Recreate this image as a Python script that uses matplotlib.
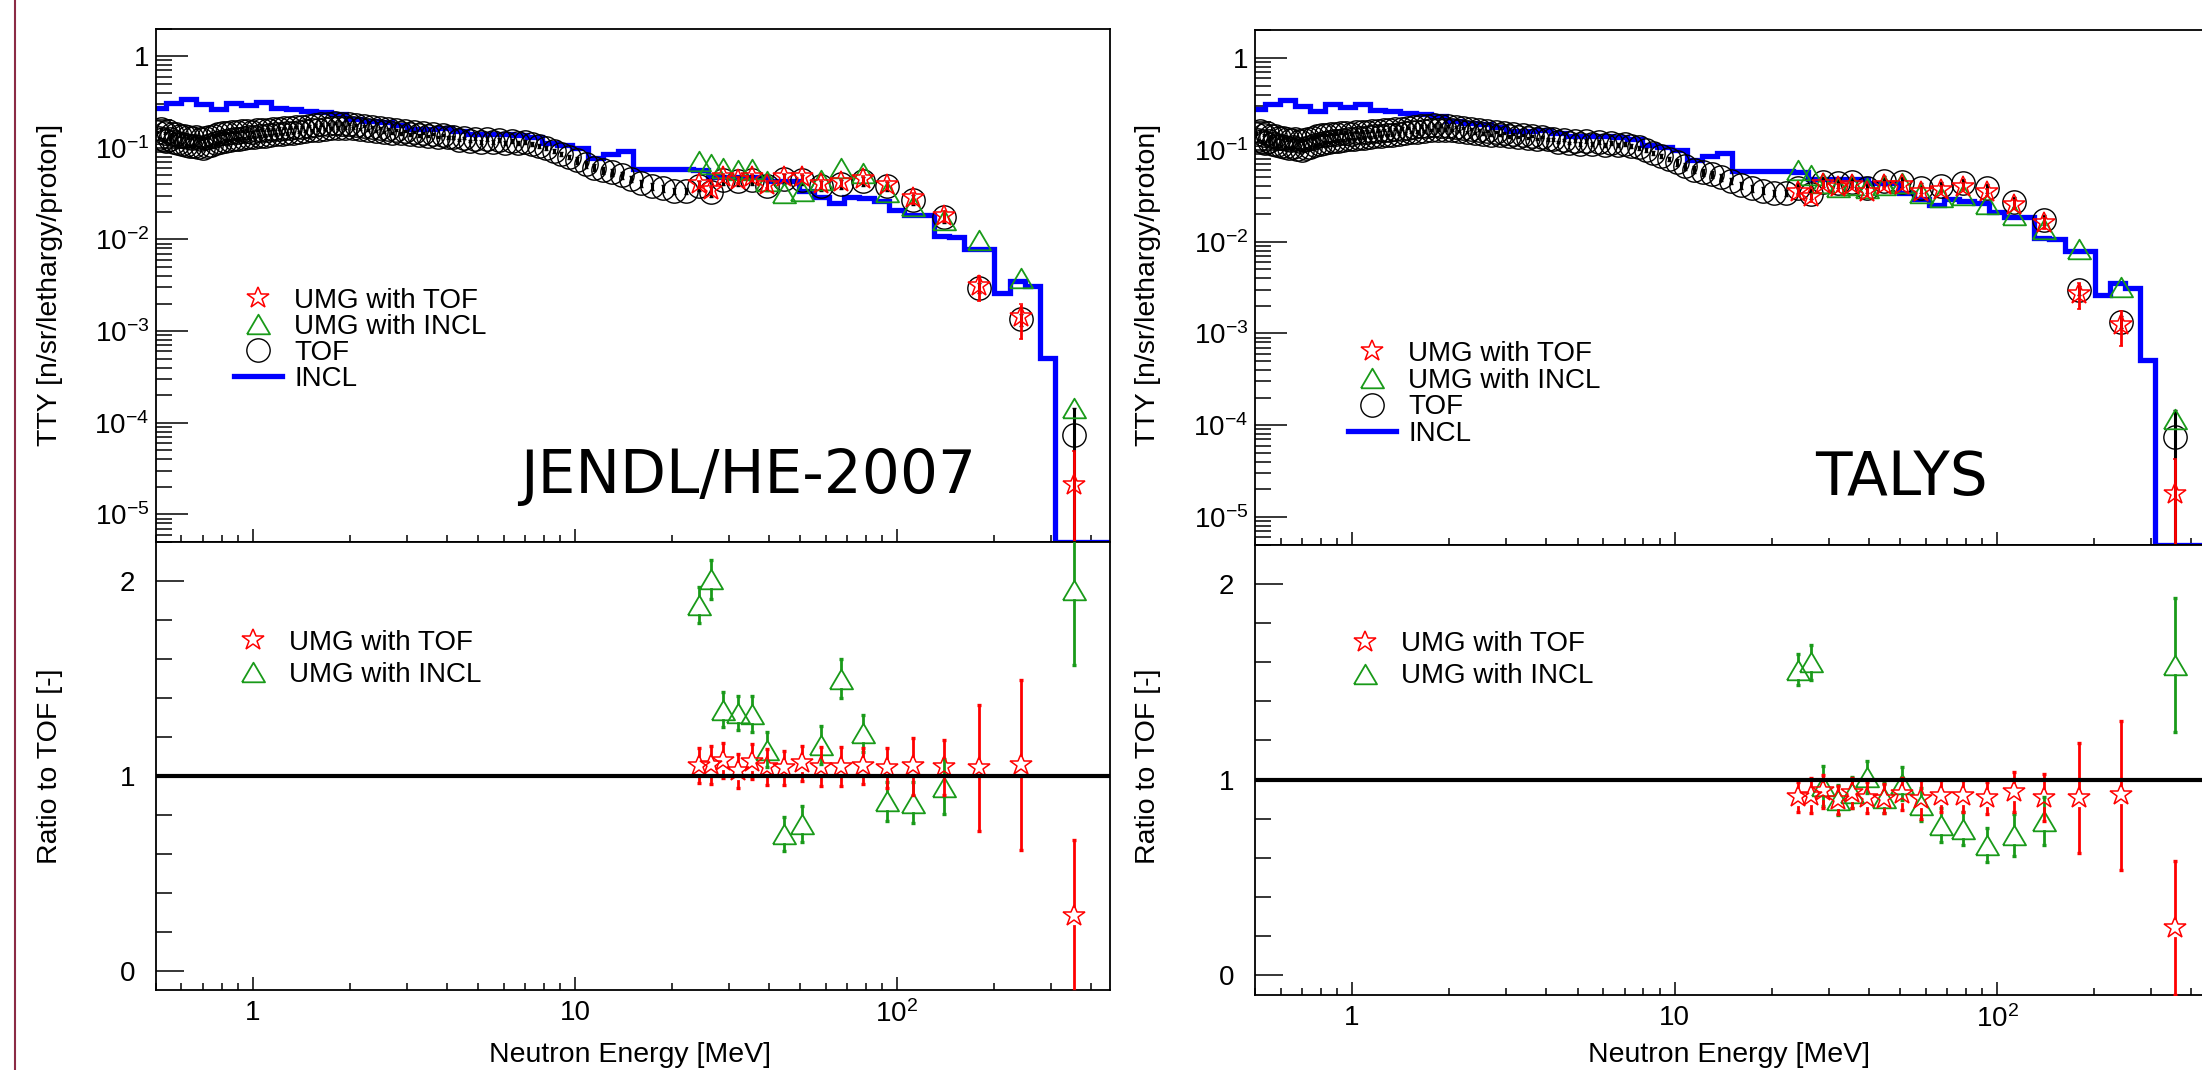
import numpy as np
import matplotlib
matplotlib.use('Agg')
from matplotlib import pyplot as plt
from matplotlib.lines import Line2D
from matplotlib.ticker import FixedLocator, FixedFormatter, LogLocator, MultipleLocator, NullFormatter

plt.rcParams['font.family'] = ['Liberation Sans', 'DejaVu Sans']
plt.rcParams['mathtext.fontset'] = 'custom'
plt.rcParams['mathtext.rm'] = 'Liberation Sans'
plt.rcParams['mathtext.it'] = 'Liberation Sans:italic'
plt.rcParams['mathtext.bf'] = 'Liberation Sans:bold'

# ---------------- data ----------------
# TOF measurement below the UMG range [MeV], [n/sr/lethargy/proton]
tof_lo_E = [0.5041, 0.5107, 0.5175, 0.5244, 0.5315, 0.5387, 0.5460, 0.5535, 0.5612, 0.5690,
            0.5770, 0.5851, 0.5935, 0.6020, 0.6106, 0.6195, 0.6286, 0.6379, 0.6473, 0.6570,
            0.6669, 0.6771, 0.6874, 0.6981, 0.7089, 0.7200, 0.7314, 0.7430, 0.7550, 0.7672,
            0.7797, 0.7925, 0.8057, 0.8191, 0.8330, 0.8471, 0.8616, 0.8765, 0.8918, 0.9075,
            0.9237, 0.9402, 0.9572, 0.9747, 0.9926, 1.011, 1.030, 1.050, 1.070, 1.090,
            1.112, 1.133, 1.156, 1.179, 1.203, 1.228, 1.253, 1.279, 1.306, 1.334,
            1.363, 1.393, 1.424, 1.455, 1.488, 1.522, 1.557, 1.594, 1.631, 1.671,
            1.711, 1.753, 1.796, 1.842, 1.888, 1.937, 1.988, 2.040, 2.095, 2.152,
            2.211, 2.273, 2.337, 2.404, 2.475, 2.548, 2.624, 2.704, 2.788, 2.876,
            2.968, 3.064, 3.165, 3.271, 3.383, 3.500, 3.624, 3.754, 3.892, 4.037,
            4.191, 4.353, 4.525, 4.707, 4.901, 5.107, 5.326, 5.560, 5.809, 6.076,
            6.361, 6.667, 6.995, 7.348, 7.729, 8.140, 8.585, 9.067, 9.591, 10.16,
            10.79, 11.47, 12.22, 13.04, 13.95, 14.97, 16.09, 17.35, 18.76, 20.35,
            22.15]
tof_lo_y = [0.150, 0.128, 0.160, 0.124, 0.145, 0.118, 0.152, 0.126, 0.140, 0.115,
            0.142, 0.112, 0.136, 0.110, 0.134, 0.108, 0.130, 0.104, 0.128, 0.106,
            0.132, 0.102, 0.126, 0.100, 0.128, 0.104, 0.132, 0.108, 0.136, 0.112,
            0.140, 0.116, 0.144, 0.120, 0.146, 0.122, 0.148, 0.124, 0.150, 0.126,
            0.152, 0.128, 0.154, 0.130, 0.150, 0.132, 0.156, 0.134, 0.158, 0.136,
            0.158, 0.138, 0.160, 0.140, 0.162, 0.142, 0.164, 0.144, 0.166, 0.146,
            0.168, 0.150, 0.170, 0.152, 0.174, 0.156, 0.176, 0.158, 0.180, 0.160,
            0.182, 0.164, 0.186, 0.166, 0.184, 0.166, 0.182, 0.164, 0.178, 0.160,
            0.172, 0.156, 0.168, 0.152, 0.164, 0.150, 0.160, 0.146, 0.156, 0.144,
            0.152, 0.140, 0.148, 0.137, 0.145, 0.134, 0.142, 0.132, 0.139, 0.130,
            0.130, 0.121, 0.128, 0.119, 0.126, 0.117, 0.124, 0.115, 0.122, 0.114,
            0.120, 0.114, 0.117, 0.110, 0.106, 0.099, 0.093, 0.086, 0.080, 0.073,
            0.066, 0.061, 0.057, 0.054, 0.050, 0.046, 0.041, 0.038, 0.036, 0.034,
            0.034]
tof_lo_rel = [0.03, 0.03, 0.03, 0.03, 0.03, 0.03, 0.03, 0.03, 0.03, 0.03,
              0.03, 0.03, 0.03, 0.03, 0.03, 0.03, 0.03, 0.03, 0.03, 0.03,
              0.03, 0.03, 0.03, 0.03, 0.03, 0.03, 0.03, 0.03, 0.03, 0.03,
              0.03, 0.03, 0.03, 0.03, 0.03, 0.03, 0.03, 0.03, 0.03, 0.03,
              0.03, 0.03, 0.03, 0.03, 0.03, 0.03, 0.03, 0.03, 0.03, 0.03,
              0.03, 0.03, 0.03, 0.03, 0.03, 0.03, 0.03, 0.03, 0.03, 0.03,
              0.03, 0.03, 0.03, 0.03, 0.03, 0.03, 0.03, 0.03, 0.03, 0.03,
              0.03, 0.03, 0.03, 0.03, 0.03, 0.03, 0.03, 0.03, 0.03, 0.03,
              0.03, 0.03, 0.03, 0.03, 0.03, 0.03, 0.03, 0.03, 0.03, 0.03,
              0.03, 0.03, 0.03, 0.03, 0.03, 0.03, 0.03, 0.03, 0.03, 0.03,
              0.03, 0.03, 0.03, 0.03, 0.03, 0.05, 0.05, 0.05, 0.05, 0.05,
              0.05, 0.05, 0.05, 0.05, 0.05, 0.05, 0.05, 0.05, 0.05, 0.08,
              0.08, 0.08, 0.08, 0.08, 0.08, 0.08, 0.08, 0.08, 0.08, 0.08,
              0.08]

# energies of the UMG bins (TOF shares them here)
umg_E = [24.2, 26.5, 28.9, 32.0, 35.5, 39.6, 44.7, 50.6, 57.9, 66.9,
         78.2, 93.0, 112.5, 140.0, 180.0, 242.0, 355.0]
tof_hi_y = [0.0385, 0.0330, 0.0448, 0.0436, 0.0447, 0.0380, 0.0460, 0.0448, 0.0388, 0.0400,
            0.0434, 0.0382, 0.0270, 0.0174, 0.00296, 0.00134, 0.000074]
tof_hi_rel = [0.12, 0.12, 0.12, 0.12, 0.12, 0.12, 0.12, 0.12, 0.12, 0.12,
              0.12, 0.12, 0.12, 0.12, 0.12, 0.15, 0.97]

# INCL calculation, histogram
incl_edges = [0.4805, 0.5354, 0.5963, 0.6642, 0.7396, 0.8237, 0.9175, 1.0219, 1.1382, 1.2677,
              1.4120, 1.5726, 1.7516, 1.9509, 2.1727, 2.4200, 2.6954, 3.0020, 3.3437, 3.7239,
              4.1476, 4.6195, 5.1451, 5.7307, 6.3826, 7.1090, 7.9177, 8.8186, 9.8220, 10.940,
              12.184, 13.571, 15.115, 16.834, 18.750, 20.883, 23.259, 25.906, 28.853, 32.137,
              35.793, 39.866, 44.402, 49.454, 55.081, 61.348, 68.329, 76.103, 84.763, 94.406,
              105.15, 117.11, 130.44, 145.28, 161.81, 180.22, 200.72, 223.56, 249.00, 277.33,
              308.88, 344.02, 383.17, 426.77, 475.30]
incl_y = [0.275, 0.312, 0.345, 0.299, 0.268, 0.312, 0.293, 0.317, 0.272, 0.264,
          0.255, 0.247, 0.232, 0.205, 0.196, 0.189, 0.177, 0.160, 0.160, 0.164,
          0.154, 0.141, 0.141, 0.141, 0.138, 0.130, 0.112, 0.108, 0.099, 0.078,
          0.085, 0.092, 0.059, 0.059, 0.059, 0.059, 0.058, 0.048, 0.048, 0.048,
          0.048, 0.043, 0.043, 0.0335, 0.029, 0.025, 0.029, 0.028, 0.0265, 0.021,
          0.0185, 0.0185, 0.011, 0.0106, 0.0079, 0.0079, 0.0026, 0.0035, 0.0031, 0.00051,
          0, 0, 0, 0]

# ratios to TOF, JENDL/HE-2007 response
jendl_tof_r = [1.051, 1.054, 1.076, 1.025, 1.071, 1.045, 1.041, 1.064, 1.047, 1.047,
               1.050, 1.041, 1.048, 1.043, 1.040, 1.055, 0.280]
jendl_tof_re = [0.090, 0.098, 0.090, 0.086, 0.090, 0.092, 0.088, 0.090, 0.098, 0.098,
                0.094, 0.103, 0.147, 0.141, 0.323, 0.436, 0.390]
jendl_incl_r = [1.876, 2.008, 1.340, 1.322, 1.318, 1.133, 0.702, 0.754, 1.157, 1.497,
                1.218, 0.870, 0.862, 0.943, 3.30, 2.87, 1.953]
jendl_incl_re = [0.094, 0.100, 0.092, 0.088, 0.092, 0.090, 0.088, 0.092, 0.098, 0.100,
                 0.094, 0.100, 0.106, 0.141, 0.30, 0.25, 0.385]
# ratios to TOF, TALYS response
talys_tof_r = [0.912, 0.917, 0.940, 0.894, 0.930, 0.907, 0.902, 0.926, 0.900, 0.918,
               0.918, 0.906, 0.939, 0.907, 0.905, 0.920, 0.243]
talys_tof_re = [0.078, 0.090, 0.084, 0.071, 0.077, 0.079, 0.074, 0.081, 0.100, 0.081,
                0.081, 0.084, 0.102, 0.121, 0.282, 0.381, 0.341]
talys_incl_r = [1.562, 1.599, 0.968, 0.895, 0.934, 1.012, 0.905, 0.980, 0.871, 0.767,
                0.750, 0.668, 0.718, 0.788, 2.82, 2.38, 1.586]
talys_incl_re = [0.080, 0.088, 0.102, 0.075, 0.080, 0.081, 0.077, 0.083, 0.085, 0.087,
                 0.084, 0.087, 0.106, 0.122, 0.20, 0.15, 0.343]

ylog_ticks = [1e-5, 1e-4, 1e-3, 1e-2, 1e-1, 1]
ylog_labels = [r'$\mathregular{10^{-5}}$', r'$\mathregular{10^{-4}}$', r'$\mathregular{10^{-3}}$',
               r'$\mathregular{10^{-2}}$', r'$\mathregular{10^{-1}}$', '1']
x_ticks = [1, 10, 100]
x_labels = ['1', '10', r'$\mathregular{10^{2}}$']

# ---------------- styles ----------------
GREEN = '#199a19'
TRI = [(-1, -0.85), (1, -0.85), (0, 0.85), (-1, -0.85)]  # ROOT open triangle
XLIM = (0.5, 457)
YLIM = (5e-6, 2)
RLIM = (-0.1, 2.2)
W, H = 2202, 1070


def box(l, t, r, b):
    # pixel box of the reference -> figure fractions
    return [l / W, 1 - b / H, (r - l) / W, (b - t) / H]


def gap_bars(ax, x, y, err, gap, color, z):
    # ROOT leaves the inside of an open marker free of the error bar
    to_px = ax.transData
    to_data = to_px.inverted()
    for xi, yi, ei in zip(x, y, err):
        px, py = to_px.transform((xi, yi))
        y_up = to_data.transform((px, py + gap))[1]
        y_dn = to_data.transform((px, py - gap))[1]
        if yi + ei > y_up:
            ax.plot([xi, xi], [y_up, yi + ei], color=color, lw=2, zorder=z)
            ax.plot([xi], [yi + ei], marker='_', ms=3.5, mew=2.4, color=color, zorder=z)
        if yi - ei < y_dn:
            ax.plot([xi, xi], [yi - ei, y_dn], color=color, lw=2, zorder=z)
            ax.plot([xi], [yi - ei], marker='_', ms=3.5, mew=2.4, color=color, zorder=z)


def style(ax, ymaj, ymin):
    ax.set_xscale('log')
    ax.set_xlim(*XLIM)
    ax.xaxis.set_major_locator(FixedLocator(x_ticks))
    ax.xaxis.set_minor_locator(LogLocator(base=10, subs=np.arange(2, 10), numticks=20))
    ax.xaxis.set_minor_formatter(NullFormatter())
    ax.tick_params(which='both', direction='in', top=False, right=False, width=1.1, labelsize=20)
    ax.tick_params(axis='x', which='major', length=9.5, pad=7)
    ax.tick_params(axis='x', which='minor', length=4.7)
    ax.tick_params(axis='y', which='major', length=ymaj)
    ax.tick_params(axis='y', which='minor', length=ymin)
    for s in ax.spines.values():
        s.set_linewidth(1.3)


fig = plt.figure(figsize=(W / 100, H / 100), dpi=100)

panels = [
    ('JENDL/HE-2007', jendl_tof_r, jendl_tof_re, jendl_incl_r, jendl_incl_re,
     (156, 28.6, 1109.5, 542), (156, 542, 1109.5, 990), (0.3816, 0.0954), 630, 50,
     (0.0822, 0.3935), (0.077, 0.739), 0.0, 0.22),
    ('TALYS', talys_tof_r, talys_tof_re, talys_incl_r, talys_incl_re,
     (1255, 30.4, 2210, 544.6), (1255, 544.6, 2210, 995), (0.5864, 0.0972), 1729, 1148,
     (0.0978, 0.2929), (0.0905, 0.743), 0.02, 0.22),
]

tof_E = np.array(tof_lo_E + umg_E)
tof_y = np.array(tof_lo_y + tof_hi_y)
tof_err = tof_y * np.array(tof_lo_rel + tof_hi_rel)
incl_draw = np.where(np.array(incl_y) > 0, incl_y, YLIM[0])

for (name, rt, rte, ri, rie, top_box, bot_box, name_pos, xlab_x, ylab_x,
     leg_top, leg_bot, sp_top, sp_bot) in panels:
    rt, rte, ri, rie = map(np.array, (rt, rte, ri, rie))
    umg_tof = rt * np.array(tof_hi_y)
    umg_tof_err = rte * np.array(tof_hi_y)
    umg_incl = ri * np.array(tof_hi_y)
    umg_incl_err = rie * np.array(tof_hi_y)

    # upper pad: thick target yield
    ax = fig.add_axes(box(*top_box))
    style(ax, 23, 11.5)
    ax.set_yscale('log')
    ax.set_ylim(*YLIM)
    ax.yaxis.set_major_locator(FixedLocator(ylog_ticks))
    ax.yaxis.set_major_formatter(FixedFormatter(ylog_labels))
    ax.yaxis.set_minor_locator(LogLocator(base=10, subs=np.arange(2, 10), numticks=20))
    ax.yaxis.set_minor_formatter(NullFormatter())
    ax.xaxis.set_major_formatter(NullFormatter())
    ax.tick_params(axis='y', pad=5)

    ax.stairs(incl_draw, incl_edges, baseline=None, color='#0000ff', lw=3.8, zorder=2)
    ax.errorbar(tof_E, tof_y, yerr=tof_err, fmt='o', ms=16.8, mfc='none', mec='k', mew=1.0,
                ecolor='k', elinewidth=2.2, capsize=1.6, capthick=2.4, zorder=3)
    ax.plot(umg_E, umg_incl, ls='none', marker=TRI, ms=16.6, mfc='none', mec=GREEN, mew=1.3, zorder=4)
    gap_bars(ax, umg_E, umg_incl, umg_incl_err, 10, GREEN, 4)
    ax.errorbar(umg_E, umg_tof, yerr=umg_tof_err, fmt='*', ms=16.4, mfc='none', mec='red', mew=1.1,
                ecolor='red', elinewidth=2, capsize=1.6, capthick=2.4, zorder=5)

    h_red = Line2D([], [], ls='none', marker='*', ms=16.4, mfc='none', mec='red', mew=1.1)
    h_green = Line2D([], [], ls='none', marker=TRI, ms=16.6, mfc='none', mec=GREEN, mew=1.3)
    h_black = Line2D([], [], ls='none', marker='o', ms=16.8, mfc='none', mec='k', mew=1.0)
    h_blue = Line2D([], [], color='#0000ff', lw=3.8)
    ax.legend([h_red, h_green, h_black, h_blue], ['UMG with TOF', 'UMG with INCL', 'TOF', 'INCL'],
              loc='center left', bbox_to_anchor=leg_top, frameon=False, fontsize=20,
              borderpad=0, borderaxespad=0, handlelength=1.7, handletextpad=0.45,
              labelspacing=sp_top)
    ax.text(name_pos[0], name_pos[1], name, transform=ax.transAxes, family='DejaVu Sans',
            fontsize=43, ha='left', va='baseline')

    # lower pad: ratio to TOF
    bx = fig.add_axes(box(*bot_box))
    style(bx, 20, 11.6)
    bx.set_ylim(*RLIM)
    bx.yaxis.set_major_locator(FixedLocator([0, 1, 2]))
    bx.yaxis.set_major_formatter(FixedFormatter(['0', '1', '2']))
    bx.yaxis.set_minor_locator(MultipleLocator(0.2))
    bx.xaxis.set_major_formatter(FixedFormatter(x_labels))
    bx.tick_params(axis='y', pad=15)

    gap_bars(bx, umg_E, ri, rie, 10, GREEN, 4)
    bx.plot(umg_E, ri, ls='none', marker=TRI, ms=16.6, mfc='none', mec=GREEN, mew=1.3, zorder=4)
    gap_bars(bx, umg_E, rt, rte, 10, 'red', 5)
    bx.plot(umg_E, rt, ls='none', marker='*', ms=16.4, mfc='none', mec='red', mew=1.1, zorder=5)
    bx.axhline(1, color='k', lw=3, zorder=6)
    bx.legend([h_red, h_green], ['UMG with TOF', 'UMG with INCL'],
              loc='center left', bbox_to_anchor=leg_bot, frameon=False, fontsize=20,
              borderpad=0, borderaxespad=0, handlelength=1.7, handletextpad=0.45,
              labelspacing=sp_bot)

    fig.text(xlab_x / W, 1 - 1055 / H, 'Neutron Energy [MeV]', fontsize=20.5, ha='center', va='center')
    fig.text(ylab_x / W, 1 - 285 / H, 'TTY [n/sr/lethargy/proton]', fontsize=20.5,
             rotation=90, ha='center', va='center')
    fig.text(ylab_x / W, 1 - 766 / H, 'Ratio to TOF [-]', fontsize=20.5,
             rotation=90, ha='center', va='center')

# slide border on the far left
fig.add_artist(Line2D([14.5 / W, 14.5 / W], [0, 1], color='#8b2b45', lw=1.5, transform=fig.transFigure))

fig.savefig('out.png', dpi=100)
